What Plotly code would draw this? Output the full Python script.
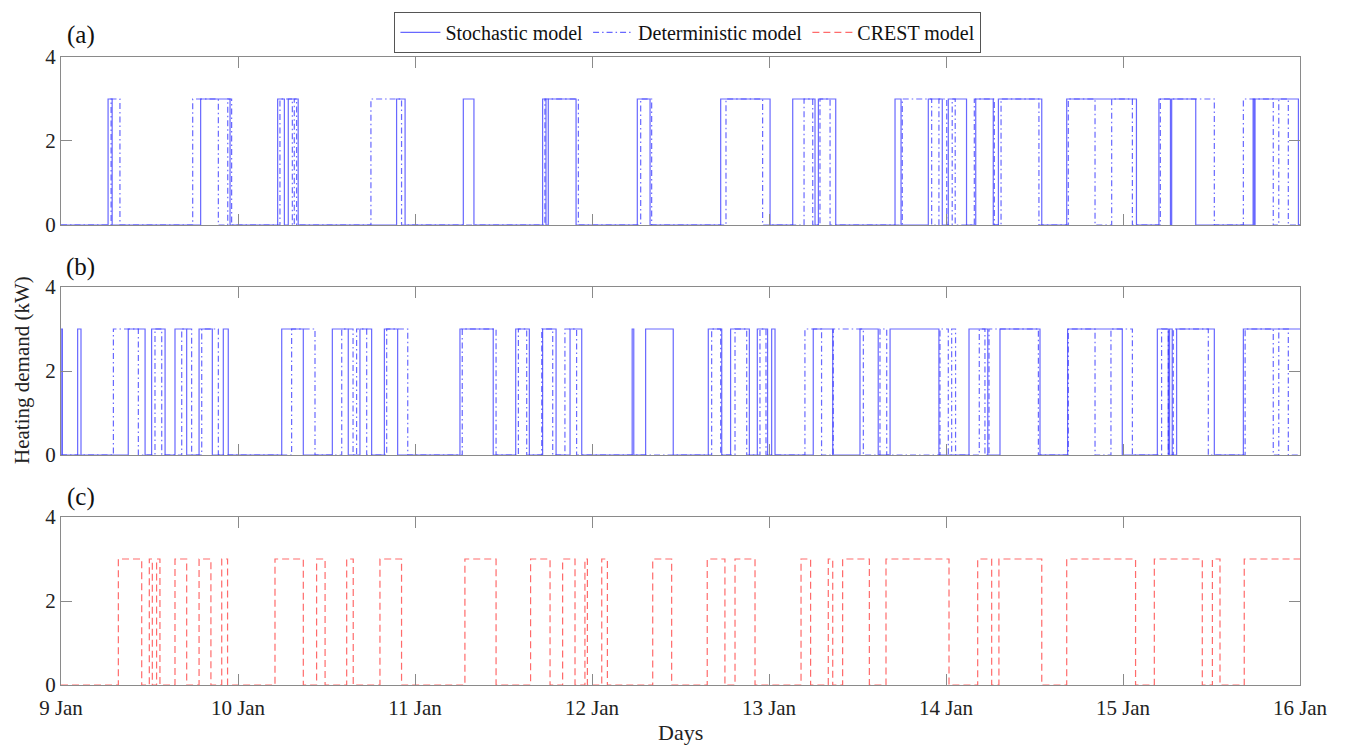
import datetime as dt
import plotly.graph_objects as go
from plotly.subplots import make_subplots

# Heating on/off periods (days after 9 Jan 00:00) and the heater power when on
POWER_KW = 3.0
START = dt.datetime(2021, 1, 9)
N_DAYS = 7

stoch_a = [(0.266, 0.289), (0.789, 0.955), (1.224, 1.262), (1.284, 1.340), (1.896, 1.944),
           (2.273, 2.333), (2.721, 2.740), (2.753, 2.910), (3.256, 3.328), (3.727, 4.006),
           (4.134, 4.260), (4.279, 4.377), (4.712, 4.746), (4.900, 4.979), (5.013, 5.116),
           (5.168, 5.267), (5.296, 5.541), (5.682, 6.076), (6.203, 6.268), (6.275, 6.411),
           (6.735, 6.742), (6.746, 6.991)]
det_a = [(0.283, 0.333), (0.744, 0.889), (0.942, 0.964), (1.237, 1.307), (1.318, 1.331),
         (1.751, 1.924), (2.734, 2.923), (3.275, 3.337), (3.757, 3.964), (4.198, 4.247),
         (4.288, 4.345), (4.753, 4.919), (4.960, 5.004), (5.035, 5.052), (5.160, 5.273),
         (5.311, 5.525), (5.691, 5.842), (5.936, 6.053), (6.211, 6.516), (6.680, 6.849),
         (6.880, 6.934)]

stoch_b = [(0.000, 0.008), (0.094, 0.113), (0.380, 0.475), (0.512, 0.588), (0.644, 0.710),
           (0.780, 0.855), (0.917, 0.945), (1.247, 1.369), (1.533, 1.623), (1.689, 1.755),
           (1.827, 1.902), (2.254, 2.442), (2.569, 2.646), (2.721, 2.797), (2.876, 2.942),
           (3.227, 3.236), (3.303, 3.459), (3.657, 3.733), (3.783, 3.889), (3.934, 3.992),
           (4.015, 4.034), (4.250, 4.360), (4.514, 4.617), (4.684, 4.960), (5.130, 5.236),
           (5.305, 5.531), (5.687, 5.996), (6.194, 6.256), (6.263, 6.278), (6.303, 6.516),
           (6.680, 7.000)]
det_b = [(0.296, 0.437), (0.531, 0.569), (0.682, 0.738), (0.795, 0.889), (1.303, 1.435),
         (1.586, 1.650), (1.670, 1.727), (1.840, 1.959), (2.267, 2.458), (2.584, 2.631),
         (2.716, 2.778), (2.847, 2.913), (3.676, 3.727), (3.808, 3.874), (3.949, 3.983),
         (4.203, 4.297), (4.363, 4.533), (4.627, 4.665), (4.966, 5.013), (5.032, 5.054),
         (5.188, 5.220), (5.243, 5.522), (5.691, 5.842), (5.932, 6.053), (6.218, 6.256),
         (6.284, 6.482), (6.690, 6.849), (6.880, 6.934)]

crest_c = [(0.324, 0.456), (0.499, 0.516), (0.540, 0.559), (0.644, 0.710), (0.780, 0.847),
           (0.908, 0.941), (1.209, 1.369), (1.444, 1.492), (1.614, 1.651), (1.802, 1.924),
           (2.282, 2.458), (2.653, 2.763), (2.834, 2.904), (2.960, 2.974), (3.055, 3.087),
           (3.343, 3.450), (3.651, 3.751), (3.808, 3.921), (4.181, 4.235), (4.335, 4.360),
           (4.416, 4.567), (4.661, 5.017), (5.179, 5.258), (5.299, 5.541), (5.682, 6.071),
           (6.177, 6.448), (6.505, 6.548), (6.685, 7.000)]

panel_labels = ["(a)", "(b)", "(c)"]
y_ticks = [0, 2, 4]

BLUE = "rgba(40,40,255,0.7)"
RED = "rgba(255,70,70,0.8)"
FRAME = "#8a8a8a"
FONT = "Liberation Serif"


def to_time(d):
    return START + dt.timedelta(days=d)


def step_xy(intervals):
    xs, ys = [to_time(0)], [0.0]
    for on, off in intervals:
        xs += [to_time(on), to_time(on)]
        ys += [0.0, POWER_KW]
        if off < N_DAYS:
            xs += [to_time(off), to_time(off)]
            ys += [POWER_KW, 0.0]
        else:
            xs.append(to_time(N_DAYS))
            ys.append(POWER_KW)
    if intervals[-1][1] < N_DAYS:
        xs.append(to_time(N_DAYS))
        ys.append(0.0)
    return xs, ys


fig = make_subplots(rows=3, cols=1, shared_xaxes=True)

series = [
    (1, stoch_a, "Stochastic model", BLUE, "solid", True),
    (1, det_a, "Deterministic model", BLUE, "6px,3px,1.5px,3px", True),
    (2, stoch_b, "Stochastic model", BLUE, "solid", False),
    (2, det_b, "Deterministic model", BLUE, "6px,3px,1.5px,3px", False),
    (3, crest_c, "CREST model", RED, "7px,4px", True),
]
for row, iv, name, color, dash, show in series:
    xs, ys = step_xy(iv)
    fig.add_trace(go.Scatter(x=xs, y=ys, mode="lines", name=name, showlegend=show,
                             line=dict(color=color, width=1.2, dash=dash)),
                  row=row, col=1)

domains = [[0.7325, 1.0], [0.3662, 0.6338], [0.0, 0.2675]]
day_ticks = [to_time(d) for d in range(N_DAYS + 1)]
for i in range(3):
    ax = "" if i == 0 else str(i + 1)
    fig.layout["yaxis" + ax].update(
        domain=domains[i], range=[0, 4], tickvals=y_ticks, ticks="inside", ticklen=11,
        tickcolor=FRAME, showline=True, linecolor=FRAME, mirror="ticks",
        showgrid=False, zeroline=False, tickfont=dict(family=FONT, size=21, color="#222"))
    fig.layout["xaxis" + ax].update(
        type="date", range=[to_time(0), to_time(N_DAYS)], tickvals=day_ticks,
        tickformat="%-d %b", ticks="inside", ticklen=11, tickcolor=FRAME,
        showline=True, linecolor=FRAME, mirror="ticks", showgrid=False, zeroline=False,
        showticklabels=(i == 2), ticklabelstandoff=4,
        tickfont=dict(family=FONT, size=21, color="#222"))

annotations = []
label_y = [1.035, 0.6656, 0.2994]
for lab, y in zip(panel_labels, label_y):
    annotations.append(dict(text=lab, x=0.0158, y=y, xref="paper", yref="paper",
                            xanchor="center", yanchor="middle", showarrow=False,
                            font=dict(family=FONT, size=25, color="#111")))
annotations.append(dict(text="Heating demand (kW)", x=-0.0315, y=0.5016, xref="paper",
                        yref="paper", textangle=-90, xanchor="center", yanchor="middle",
                        showarrow=False, font=dict(family=FONT, size=21, color="#222")))
annotations.append(dict(text="Days", x=0.5, y=-0.0764, xref="paper", yref="paper",
                        xanchor="center", yanchor="middle", showarrow=False,
                        font=dict(family=FONT, size=22, color="#222")))

fig.update_layout(
    width=1345, height=747, autosize=False,
    margin=dict(l=61, r=45, t=57, b=62, autoexpand=False),
    paper_bgcolor="white", plot_bgcolor="white",
    annotations=annotations,
    legend=dict(orientation="h", x=0.506, y=1.0717, xanchor="center", yanchor="top",
                xref="paper", yref="paper", bordercolor="#555", borderwidth=1,
                bgcolor="white", font=dict(family=FONT, size=20, color="#111"),
                itemwidth=40, tracegroupgap=0),
    showlegend=True,
)

fig.write_html("out.html")
